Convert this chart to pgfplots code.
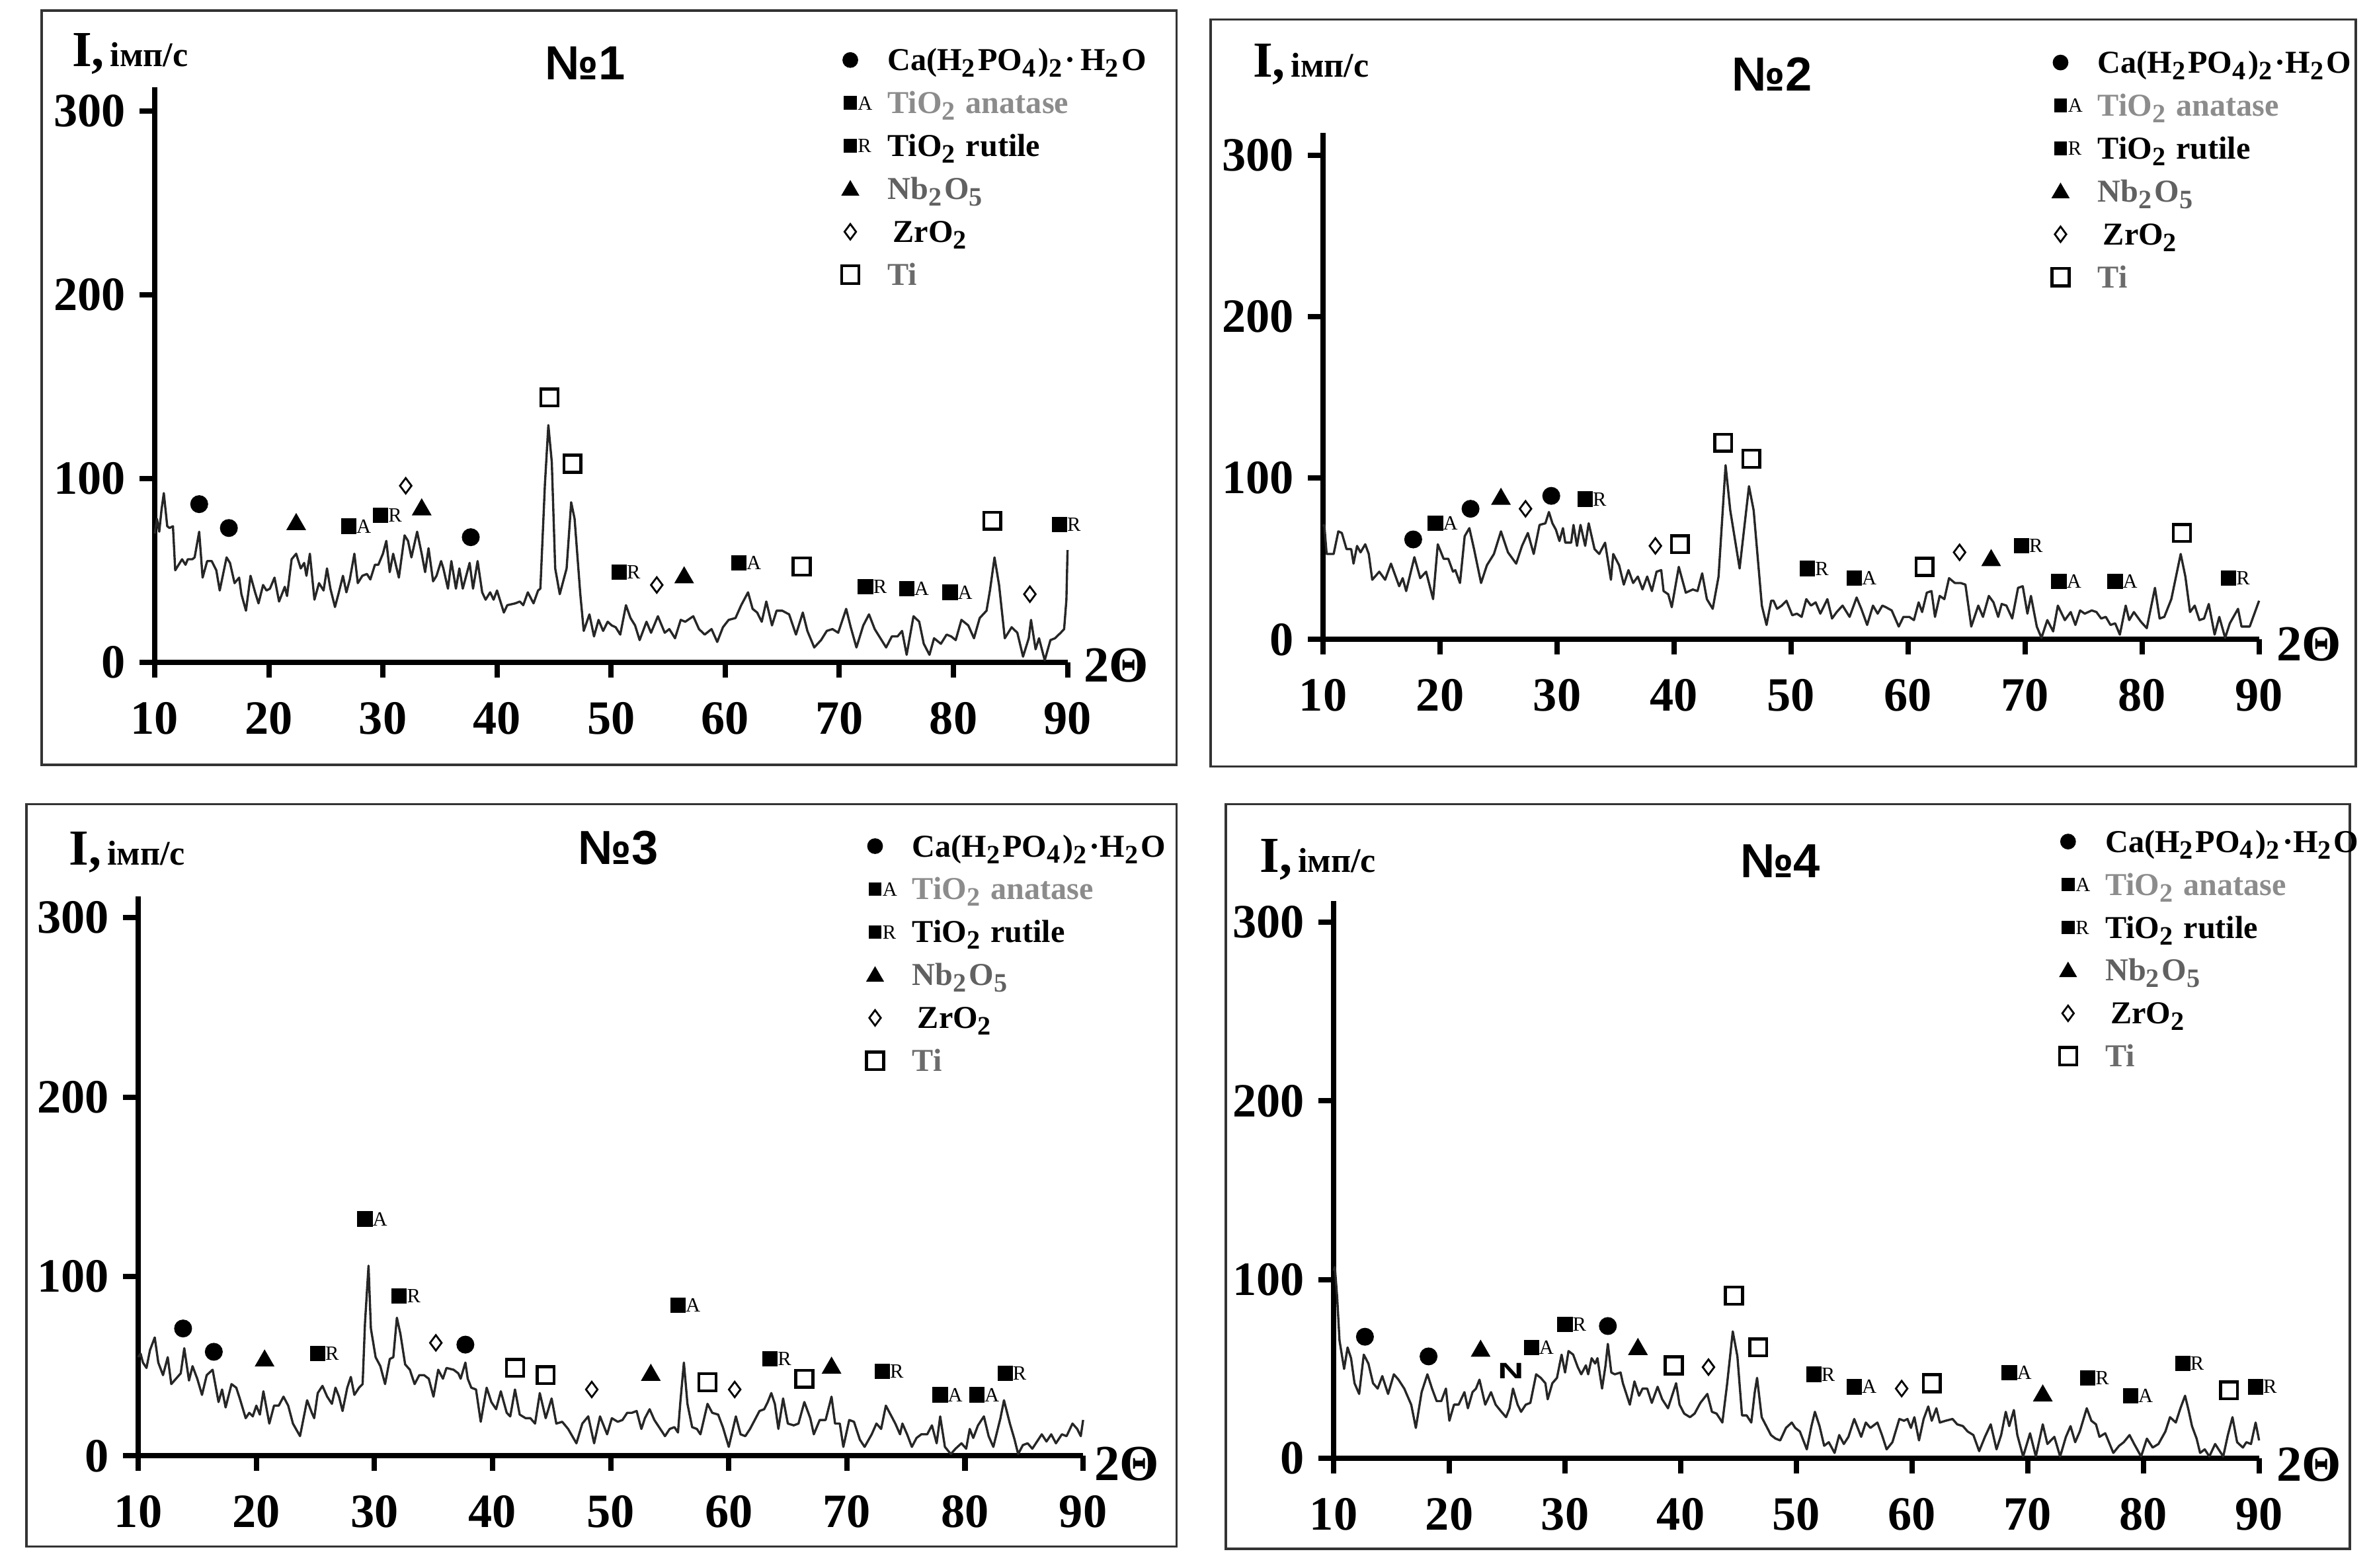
\documentclass[border=0pt]{standalone}
\usepackage{fontspec}
\setmainfont{Liberation Serif}
\setsansfont{Liberation Sans}
\usepackage{xcolor}
\usepackage{pgfplots}
\pgfplotsset{compat=1.18}
\definecolor{anat}{gray}{0.55}
\definecolor{nbc}{gray}{0.38}
\definecolor{tic}{gray}{0.42}
\newcommand{\lettfont}{\fontsize{3.8}{4}\selectfont\mdseries}
\pgfplotsset{
  xrd/.style={
    scale only axis, clip=false, enlargelimits=false, anchor=south west,
    axis x line=bottom, axis y line=left,
    axis line style={-, line width=1pt, black},
    every non boxed x axis/.append style={xtick align=outside},
    every non boxed y axis/.append style={ytick align=outside},
    xmin=10, xmax=90, ymin=0,
    xtick={10,20,...,90}, ytick={0,100,200,300},
    tick align=outside, major tick length=1mm,
    tick style={line width=1pt, black},
    tick label style={font=\fontsize{9}{10}\selectfont\bfseries},
    /pgf/number format/assume math mode=true,
    xticklabel style={yshift=-0.4mm},
    yticklabel style={xshift=0.3mm},
    legend cell align=left,
    legend style={draw=none, fill=none, anchor=north west, inner xsep=0pt, inner ysep=0pt,
      row sep=0.44mm, column sep=1mm, font=\fontsize{6}{7}\selectfont\bfseries,
      nodes={inner sep=0pt, text height=1.9mm, text depth=0.5mm}},
  },
  trace/.style={line width=0.42pt, black!85, line join=round, mark=none, forget plot},
  mcirc/.style={only marks, mark=*, mark size=1.48pt, black, forget plot},
  mtri/.style={only marks, mark=triangle*, mark size=1.75pt, black, forget plot},
  mdiam/.style={only marks, mark=diamond, mark size=1.45pt, black, mark options={line width=0.35pt, fill=white}, forget plot},
  mosq/.style={only marks, mark=square, mark size=1.6pt, black, mark options={line width=0.55pt, fill=white}, forget plot},
  msqA/.style={only marks, mark=square*, mark size=1.25pt, black, forget plot, nodes near coords={A},
    every node near coord/.append style={anchor=base west, inner sep=0pt, xshift=0.44mm, yshift=-0.44mm, font=\lettfont, text=black}},
  msqR/.style={only marks, mark=square*, mark size=1.25pt, black, forget plot, nodes near coords={R},
    every node near coord/.append style={anchor=base west, inner sep=0pt, xshift=0.44mm, yshift=-0.44mm, font=\lettfont, text=black}},
  lgcirc/.style={legend image code/.code={\path[draw=none, fill=none] (0cm,0cm) -- (2mm,0cm); \fill[black, draw=none] (1mm,0cm) circle (0.52mm);}},
  lgA/.style={legend image code/.code={\path[draw=none, fill=none] (0cm,0cm) -- (2mm,0cm); \fill[black, draw=none] (0.57mm,-0.45mm) rectangle (1.43mm,0.45mm);
      \node[anchor=base west, inner sep=0pt, text height=0.8mm, text depth=0mm, font=\lettfont, draw=none, fill=none, text=black] at (1.43mm,-0.45mm) {A};}},
  lgR/.style={legend image code/.code={\path[draw=none, fill=none] (0cm,0cm) -- (2mm,0cm); \fill[black, draw=none] (0.57mm,-0.45mm) rectangle (1.43mm,0.45mm);
      \node[anchor=base west, inner sep=0pt, text height=0.8mm, text depth=0mm, font=\lettfont, draw=none, fill=none, text=black] at (1.43mm,-0.45mm) {R};}},
  lgtri/.style={legend image code/.code={\path[draw=none, fill=none] (0cm,0cm) -- (2mm,0cm); \fill[black, draw=none] (1mm,0.58mm) -- (0.4mm,-0.45mm) -- (1.6mm,-0.45mm) -- cycle;}},
  lgdiam/.style={legend image code/.code={\path[draw=none, fill=none] (0cm,0cm) -- (2mm,0cm); \draw[black, fill=none, line width=0.35pt] (1mm,0.51mm) -- (1.38mm,0mm) -- (1mm,-0.51mm) -- (0.62mm,0mm) -- cycle;}},
  lgosq/.style={legend image code/.code={\path[draw=none, fill=none] (0cm,0cm) -- (2mm,0cm); \draw[black, fill=none, line width=0.55pt] (0.43mm,-0.58mm) rectangle (1.57mm,0.58mm);}},
}
\newcommand{\xrdlegend}[1]{%
  \addlegendimage{lgcirc}\addlegendentry{Ca(H\textsubscript{2}PO\textsubscript{4})\textsubscript{2}#1H\textsubscript{2}O}
  \addlegendimage{lgA}\addlegendentry{\textcolor{anat}{TiO\textsubscript{2} anatase}}
  \addlegendimage{lgR}\addlegendentry{TiO\textsubscript{2} rutile}
  \addlegendimage{lgtri}\addlegendentry{\textcolor{nbc}{Nb\textsubscript{2}O\textsubscript{5}}}
  \addlegendimage{lgdiam}\addlegendentry{\,ZrO\textsubscript{2}}
  \addlegendimage{lgosq}\addlegendentry{\textcolor{tic}{Ti}}
}
\newcommand{\ilabel}{{\fontsize{9.5}{10}\selectfont\bfseries I,}{\fontsize{6.5}{7}\selectfont\bfseries\,імп/с}}
\newcommand{\ttl}[1]{{\fontsize{9}{10}\selectfont\sffamily\bfseries №#1}}
\newcommand{\tth}{{\fontsize{9.5}{10}\selectfont\bfseries 2Θ}}
\begin{document}
\begin{tikzpicture}
\path[use as bounding box] (0,0) rectangle (15.68,10.37);
\draw[line width=0.45pt, black!80] (0.275,5.31) rectangle (7.78,10.30);
\draw[line width=0.45pt, black!80] (8.006,5.30) rectangle (15.58,10.24);
\draw[line width=0.45pt, black!80] (0.175,0.14) rectangle (7.78,5.05);
\draw[line width=0.45pt, black!80] (8.106,0.125) rectangle (15.54,5.05);

% ---------------- Panel 1 ----------------
\begin{axis}[xrd, at={(1.023cm,5.99cm)}, width=6.037cm, height=3.804cm, ymax=313,
  legend style={at={(0.7443,1.0804)}}]
\addplot[trace] coordinates {(10,70) (10.2,78) (10.4,71) (10.6,83) (10.8,92) (11.1,74) (11.3,73) (11.6,74) (11.8,50) (12.1,53) (12.4,56) (12.7,53) (12.9,56) (13.3,56) (13.5,57) (13.9,71) (14.2,46) (14.6,55) (15.0,55) (15.4,50) (15.7,39) (16.3,57) (16.6,54) (17.0,43) (17.4,46) (17.6,37) (18.0,28) (18.4,47) (18.8,38) (19.1,32) (19.5,42) (19.8,39) (20.1,40) (20.5,46) (20.9,33) (21.4,41) (21.6,36) (22.0,56) (22.4,59) (22.8,51) (23.1,54) (23.3,47) (23.6,59) (24.0,34) (24.4,43) (24.8,39) (25.1,51) (25.4,40) (25.8,30) (26.1,37) (26.5,47) (26.8,38) (27.1,45) (27.5,59) (27.8,43) (28.2,47) (28.6,48) (28.9,45) (29.3,53) (29.6,53) (30.0,59) (30.3,66) (30.6,49) (30.9,59) (31.4,46) (31.9,69) (32.2,66) (32.5,57) (33.0,71) (33.4,59) (33.7,49) (34.0,62) (34.4,44) (34.7,47) (35.1,55) (35.3,51) (35.7,40) (36.0,55) (36.4,40) (36.7,51) (37.0,40) (37.6,54) (37.9,40) (38.3,55) (38.7,38) (39.0,34) (39.4,38) (39.7,34) (40.0,39) (40.6,27) (40.9,31) (41.6,32) (42.0,33) (42.3,31) (42.7,38) (43.2,32) (43.6,39) (43.8,40) (44.2,97) (44.5,129) (44.8,109) (45.1,51) (45.5,37) (46.1,51) (46.5,87) (46.8,78) (47.3,37) (47.6,17) (48.1,26) (48.5,14) (48.9,23) (49.3,17) (49.7,22) (50.05,20) (50.4,19) (50.8,15) (51.3,31) (51.7,24) (52.1,20) (52.5,12) (53.1,22) (53.5,16) (54.1,25) (54.7,16) (55.1,18) (55.6,13) (56.1,23) (56.5,22) (57.2,25) (57.7,18) (58.2,15) (58.8,18) (59.3,11) (59.8,19) (60.3,23) (60.9,24) (61.4,31) (62.0,38) (62.4,29) (62.8,27) (63.2,22) (63.6,33) (64.1,20) (64.5,28) (65.0,28) (65.6,26) (66.2,15) (66.8,27) (67.2,17) (67.8,8) (68.4,12) (68.9,17) (69.4,18) (69.9,16) (70.6,29) (71.0,19) (71.5,8) (72.1,20) (72.6,26) (73.1,18) (73.5,14) (74.1,8) (74.6,14) (75.1,14) (75.5,17) (75.9,4) (76.5,25) (77.0,22) (77.4,10) (77.9,4) (78.3,13) (78.9,10) (79.4,15) (79.8,14) (80.2,12) (80.7,23) (81.3,20) (81.8,13) (82.3,24) (82.9,28) (83.2,39) (83.6,57) (84.0,42) (84.5,13) (85.1,19) (85.6,16) (86.1,3) (86.6,13) (86.8,23) (87.2,7) (87.5,13) (88.0,1) (88.5,12) (88.9,13) (89.4,16) (89.7,18) (89.9,34) (90.0,61)};
\addplot[mcirc] coordinates {(13.9,86) (16.5,73) (37.7,68)};
\addplot[mtri] coordinates {(22.4,75) (33.4,83) (56.4,46)};
\addplot[msqA] coordinates {(27.0,74) (61.2,54) (75.9,40) (79.7,38)};
\addplot[msqR] coordinates {(29.8,80) (50.7,49) (72.3,41) (89.3,75)};
\addplot[mdiam] coordinates {(32.0,96) (54.0,42) (86.7,37)};
\addplot[mosq] coordinates {(44.6,144) (46.6,108) (66.7,52) (83.4,77)};
\xrdlegend{·\,}
\end{axis}

% ---------------- Panel 2 ----------------
\begin{axis}[xrd, at={(8.75cm,6.14cm)}, width=6.19cm, height=3.351cm, ymax=314,
  legend style={at={(0.7706,1.1767)}}]
\addplot[trace] coordinates {(10.0,70) (10.1,71) (10.3,53) (10.9,53) (11.3,67) (11.6,66) (12.0,56) (12.4,56) (12.6,47) (12.9,58) (13.2,54) (13.6,59) (13.9,53) (14.2,37) (14.8,42) (15.3,37) (15.8,47) (16.1,41) (16.5,33) (16.8,38) (17.1,30) (17.8,51) (18.3,38) (18.8,42) (19.4,25) (19.8,59) (20.3,50) (20.7,50) (21.1,42) (21.3,43) (21.7,35) (22.1,64) (22.5,69) (22.9,56) (23.5,35) (24.0,46) (24.6,53) (25.2,67) (25.8,54) (26.5,47) (27.0,58) (27.5,66) (28.0,53) (28.5,71) (29.0,72) (29.3,79) (29.6,72) (29.9,68) (30.2,61) (30.5,69) (30.7,60) (31.2,60) (31.4,71) (31.7,58) (32.0,71) (32.4,58) (32.7,72) (33.2,56) (33.6,53) (34.1,60) (34.6,37) (34.8,53) (35.3,46) (35.7,34) (36.1,43) (36.5,35) (36.9,39) (37.3,31) (37.7,39) (38.1,30) (38.5,42) (38.9,43) (39.1,30) (39.5,28) (39.8,20) (40.4,45) (41.0,29) (41.6,31) (42.0,30) (42.4,41) (42.8,25) (43.3,19) (43.8,39) (44.4,108) (44.8,80) (45.6,44) (46.4,95) (46.8,80) (47.5,21) (47.9,9) (48.3,24) (48.5,24) (48.8,19) (49.2,21) (49.6,24) (50.1,15) (50.5,16) (50.9,14) (51.3,25) (51.7,21) (52.1,23) (52.5,16) (53.1,25) (53.5,13) (53.9,17) (54.4,21) (55.0,14) (55.6,26) (56.0,19) (56.5,9) (57.0,21) (57.4,16) (57.8,21) (58.1,20) (58.6,18) (59.2,8) (59.6,14) (60.1,14) (60.5,12) (60.9,23) (61.2,17) (61.6,29) (62.0,30) (62.3,14) (62.7,27) (63.1,25) (63.5,38) (64.0,35) (64.5,35) (64.9,34) (65.4,8) (66.0,21) (66.4,14) (66.9,27) (67.3,23) (67.7,14) (68.0,22) (68.4,21) (68.9,13) (69.4,32) (69.8,33) (70.2,16) (70.5,27) (71.0,8) (71.4,1) (71.9,12) (72.4,5) (72.8,21) (73.4,12) (73.9,17) (74.3,9) (74.7,18) (75.1,16) (75.7,18) (76.1,17) (76.5,13) (76.9,14) (77.3,9) (77.7,10) (78.1,3) (78.6,21) (78.9,12) (79.3,17) (79.9,11) (80.4,7) (81.1,32) (81.5,13) (81.9,14) (82.5,25) (82.9,39) (83.3,53) (83.7,39) (84.1,17) (84.5,21) (84.9,12) (85.3,13) (85.7,22) (86.2,3) (86.6,14) (87.1,1) (87.5,10) (88.2,19) (88.5,8) (89.2,8) (90.0,24)};
\addplot[mcirc] coordinates {(17.7,62) (22.6,81) (29.5,89)};
\addplot[msqA] coordinates {(19.6,72) (55.4,38) (72.9,36) (77.7,36)};
\addplot[mtri] coordinates {(25.2,87) (67.1,49)};
\addplot[mdiam] coordinates {(27.3,81) (38.4,58) (64.4,54)};
\addplot[msqR] coordinates {(32.4,87) (51.4,44) (69.7,58) (87.4,38)};
\addplot[mosq] coordinates {(40.5,59) (44.2,122) (46.6,112) (61.4,45) (83.4,66)};
\xrdlegend{·}
\end{axis}

% ---------------- Panel 3 ----------------
\begin{axis}[xrd, at={(0.914cm,0.74cm)}, width=6.249cm, height=3.7025cm, ymax=312,
  legend style={at={(0.7627,1.1236)}}]
\addplot[trace] coordinates {(10.0,55) (10.2,57) (10.4,52) (10.7,49) (11.0,59) (11.4,66) (11.7,52) (12.1,45) (12.5,55) (12.8,40) (13.2,43) (13.6,46) (13.9,60) (14.3,42) (14.6,50) (15.0,43) (15.4,34) (15.8,45) (16.3,48) (16.8,30) (17.1,37) (17.4,27) (17.9,40) (18.3,38) (18.6,32) (19.1,21) (19.4,24) (19.7,22) (20.0,28) (20.3,23) (20.6,36) (21.1,18) (21.5,28) (21.9,28) (22.3,33) (22.7,28) (23.1,18) (23.7,11) (24.3,31) (24.7,24) (24.9,21) (25.2,35) (25.6,39) (26.0,33) (26.4,29) (26.7,38) (27.0,33) (27.3,25) (27.7,38) (28.0,44) (28.3,34) (28.7,38) (29.0,40) (29.2,74) (29.5,106) (29.7,71) (30.1,55) (30.5,50) (30.9,40) (31.3,54) (31.6,55) (31.9,77) (32.2,68) (32.6,51) (33.0,48) (33.4,40) (33.8,45) (34.2,45) (34.6,43) (35.0,33) (35.4,48) (35.8,43) (36.1,49) (36.7,48) (37.1,46) (37.3,43) (37.7,52) (37.9,43) (38.2,38) (38.6,37) (39.0,19) (39.5,38) (39.9,30) (40.3,26) (40.7,36) (41.2,24) (41.5,22) (41.9,37) (42.3,23) (42.8,21) (43.2,21) (43.6,18) (44.0,35) (44.5,21) (45.0,32) (45.4,18) (45.9,19) (46.4,15) (47.1,7) (47.6,18) (48.1,22) (48.6,7) (49.1,22) (49.7,12) (50.1,21) (50.6,19) (51.0,20) (51.4,24) (51.8,24) (52.2,25) (52.6,15) (52.9,21) (53.3,26) (53.7,20) (54.1,16) (54.6,11) (55.0,15) (55.4,16) (55.7,13) (55.9,30) (56.2,52) (56.5,29) (56.9,16) (57.3,15) (57.6,12) (58.2,29) (58.6,24) (59.1,23) (59.5,16) (60.0,5) (60.6,22) (61.0,12) (61.4,11) (61.8,15) (62.2,20) (62.6,25) (63.0,26) (63.3,30) (63.6,35) (63.9,29) (64.2,15) (64.6,32) (65.0,18) (65.5,17) (65.9,18) (66.4,30) (66.9,21) (67.2,12) (67.7,20) (68.2,20) (68.7,33) (69.0,18) (69.4,18) (69.7,5) (70.2,20) (70.6,19) (71.1,9) (71.5,5) (72.1,12) (72.5,18) (72.9,15) (73.3,28) (73.7,23) (74.1,18) (74.5,12) (74.7,18) (75.1,12) (75.5,5) (75.9,10) (76.3,12) (76.8,12) (77.2,17) (77.6,7) (77.9,22) (78.3,5) (78.8,1) (79.2,4) (79.7,7) (80.1,4) (80.4,15) (80.7,10) (81.1,17) (81.6,22) (82.0,11) (82.4,5) (83.0,21) (83.3,31) (83.8,18) (84.2,9) (84.5,1) (84.9,6) (85.3,7) (85.7,4) (86.1,8) (86.5,12) (86.9,8) (87.3,12) (87.7,7) (88.2,12) (88.6,11) (89.1,18) (89.5,15) (89.8,11) (90.0,20)};
\addplot[mcirc] coordinates {(13.8,71) (16.4,58) (37.7,62)};
\addplot[mtri] coordinates {(20.7,53) (53.4,45) (68.7,49)};
\addplot[msqR] coordinates {(25.2,57) (32.1,89) (63.5,54) (73.0,47) (83.4,46)};
\addplot[msqA] coordinates {(29.2,132) (55.7,84) (77.9,34) (81.0,34)};
\addplot[mdiam] coordinates {(35.2,63) (48.4,37) (60.5,37)};
\addplot[mosq] coordinates {(41.9,49) (44.5,45) (58.2,41) (66.4,43)};
\xrdlegend{·}
\end{axis}

% ---------------- Panel 4 ----------------
\begin{axis}[xrd, at={(8.82cm,0.724cm)}, width=6.12cm, height=3.688cm, ymax=312,
  legend style={at={(0.7761,1.1405)}}]
\addplot[trace] coordinates {(10.0,105) (10.1,107) (10.3,90) (10.5,66) (10.9,50) (11.2,62) (11.5,56) (11.8,42) (12.2,36) (12.6,58) (13.0,53) (13.4,42) (13.8,39) (14.2,46) (14.7,36) (15.2,47) (15.6,44) (16.1,39) (16.7,30) (17.1,17) (17.6,37) (18.1,47) (18.5,39) (18.9,32) (19.3,32) (19.7,39) (20.0,21) (20.4,30) (20.8,30) (21.3,37) (21.6,28) (22.0,37) (22.3,39) (22.6,44) (23.1,30) (23.6,37) (24.0,30) (24.5,26) (24.9,23) (25.2,28) (25.5,39) (25.9,30) (26.2,26) (26.6,30) (27.0,31) (27.5,47) (27.9,45) (28.3,42) (28.5,33) (28.9,42) (29.3,45) (29.7,58) (30.0,48) (30.3,60) (30.7,58) (31.1,51) (31.4,47) (31.8,52) (32.0,47) (32.3,56) (32.6,53) (32.8,56) (33.2,39) (33.5,52) (33.7,64) (34.0,48) (34.3,47) (34.8,48) (35.0,42) (35.6,30) (36.0,43) (36.4,35) (36.7,39) (37.1,39) (37.5,31) (38.0,40) (38.4,33) (38.9,28) (39.6,42) (39.9,30) (40.3,25) (40.8,23) (41.2,25) (41.7,31) (42.3,36) (42.7,26) (43.1,25) (43.6,20) (44.0,41) (44.5,71) (44.9,57) (45.3,24) (45.7,24) (46.1,20) (46.4,37) (46.6,45) (47.0,23) (47.4,18) (47.8,13) (48.2,11) (48.6,10) (49.1,17) (49.6,20) (49.9,17) (50.3,15) (50.9,5) (51.3,18) (51.6,26) (52.0,18) (52.4,7) (52.8,9) (53.3,3) (53.7,13) (54.1,8) (54.5,12) (55.0,22) (55.6,12) (56.0,20) (56.4,17) (57.0,20) (57.4,13) (57.8,5) (58.3,9) (58.9,22) (59.3,21) (59.6,22) (59.9,17) (60.2,23) (60.6,10) (61.0,22) (61.4,29) (61.7,21) (62.1,28) (62.4,20) (62.9,21) (63.5,22) (63.9,19) (64.4,18) (64.8,15) (65.3,13) (65.8,4) (66.3,12) (66.8,19) (67.3,5) (67.7,13) (68.1,26) (68.4,18) (68.8,27) (69.1,13) (69.6,1) (70.2,14) (70.7,1) (71.3,19) (71.7,8) (72.3,12) (72.8,1) (73.3,12) (73.7,18) (74.1,9) (74.5,15) (75.1,28) (75.5,21) (75.9,19) (76.2,12) (76.7,14) (77.4,3) (77.9,7) (78.3,9) (78.8,13) (79.2,8) (79.8,1) (80.3,11) (80.8,6) (81.3,8) (81.9,15) (82.3,23) (82.8,20) (83.2,28) (83.6,35) (83.9,27) (84.2,18) (84.6,11) (84.9,3) (85.3,5) (85.7,1) (86.2,8) (86.6,4) (86.9,1) (87.3,13) (87.7,23) (88.1,9) (88.6,6) (88.9,9) (89.3,8) (89.7,20) (90.0,10)};
\addplot[mcirc] coordinates {(12.7,68) (18.2,57) (33.7,74)};
\addplot[mtri] coordinates {(22.7,60) (36.3,61) (71.3,35)};
\addplot[msqA] coordinates {(27.1,62) (55.0,40) (68.4,48) (78.9,35)};
\addplot[msqR] coordinates {(30.0,75) (51.5,47) (75.2,45) (83.4,53) (89.7,40)};
\addplot[mdiam] coordinates {(42.4,51) (59.1,39)};
\addplot[mosq] coordinates {(39.4,52) (44.6,91) (46.7,62) (61.7,42) (87.4,38)};
\node[font=\fontsize{4.2}{4}\selectfont\sffamily\bfseries, xscale=1.6, inner sep=0pt] at (axis cs:25.3,49) {N};
\xrdlegend{·}
\end{axis}

% ---------------- Texts ----------------
\node[anchor=base west, inner sep=0pt] at (0.47,9.93) {\ilabel};
\node[anchor=base west, inner sep=0pt] at (8.28,9.86) {\ilabel};
\node[anchor=base west, inner sep=0pt] at (0.45,4.65) {\ilabel};
\node[anchor=base west, inner sep=0pt] at (8.325,4.60) {\ilabel};
\node at (3.87,9.95) {\ttl{1}};
\node at (11.72,9.88) {\ttl{2}};
\node at (4.09,4.76) {\ttl{3}};
\node at (11.774,4.675) {\ttl{4}};
\node at (7.38,5.97) {\tth};
\node at (15.27,6.11) {\tth};
\node at (7.45,0.685) {\tth};
\node at (15.27,0.68) {\tth};
\end{tikzpicture}
\end{document}
